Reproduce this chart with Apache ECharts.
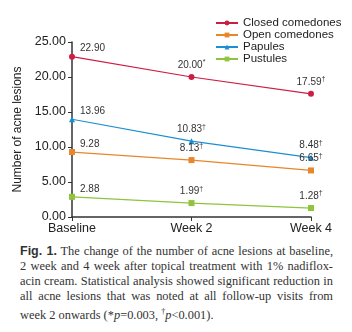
<!DOCTYPE html>
<html><head><meta charset="utf-8">
<script src="https://cdn.jsdelivr.net/npm/echarts@6/dist/echarts.min.js"></script>
<style>
html,body{margin:0;padding:0;background:#fff;}
#wrap{position:relative;width:352px;height:332px;overflow:hidden;}
#chart{position:absolute;left:0;top:0;width:352px;height:240px;}
#cap{position:absolute;left:20px;top:244px;width:313px;font-family:"Liberation Serif","DejaVu Serif",serif;font-size:12.4px;line-height:15px;color:#333;}
#cap div{text-align:justify;text-align-last:justify;white-space:nowrap;}
#cap div.last{text-align:left;text-align-last:left;}
#cap b{font-family:"Liberation Sans",Arial,sans-serif;font-weight:bold;font-size:12.5px;color:#333;}
</style></head>
<body><div id="wrap"><div id="chart"></div>
<div id="cap">
<div><b>Fig. 1.</b> The change of the number of acne lesions at baseline,</div>
<div>2 week and 4 week after topical treatment with 1% nadiflox-</div>
<div>acin cream. Statistical analysis showed significant reduction in</div>
<div>all acne lesions that was noted at all follow-up visits from</div>
<div class="last">week 2 onwards (*<i>p</i>=0.003, <sup style="font-size:8px">†</sup><i>p</i>&lt;0.001).</div>
</div></div>
<script>
const categories = ["Baseline", "Week 2", "Week 4"];
const seriesNames = ["Closed comedones", "Open comedones", "Papules", "Pustules"];
const closedVals = [22.90, 20.00, 17.59];
const openVals = [9.28, 8.13, 6.65];
const papuleVals = [13.96, 10.83, 8.48];
const pustuleVals = [2.88, 1.99, 1.28];
const closedMarks = ["", "*", "†"];
const openMarks = ["", "†", "†"];
const papuleMarks = ["", "†", "†"];
const pustuleMarks = ["", "†", "†"];
const yTicks = [0, 5, 10, 15, 20, 25];

const colors = ["#cc1e42", "#e8862c", "#1c8fd0", "#8fc43c"];
const symbols = ["circle", "rect", "triangle", "rect"];
const allVals = [closedVals, openVals, papuleVals, pustuleVals];
const allMarks = [closedMarks, openMarks, papuleMarks, pustuleMarks];

function mkData(vals, marks) {
  return vals.map((v, i) => {
    const item = { value: v, mark: marks[i] };
    if (i === 0) item.label = { position: 'right', offset: [0, -8], distance: 5 };
    return item;
  });
}

const chart = echarts.init(document.getElementById('chart'));
chart.setOption({
  animation: false,
  legend: {
    orient: 'vertical', left: 210, top: 12, itemGap: 0, itemWidth: 22, itemHeight: 6,
    textStyle: { fontFamily: 'Liberation Sans', fontSize: 11.5, color: '#222', lineHeight: 12 },
    data: seriesNames
  },
  grid: { left: 72, top: 42, width: 239, height: 175 },
  xAxis: {
    type: 'category', data: categories, boundaryGap: false,
    axisLine: { lineStyle: { color: '#333', width: 1.5 } },
    axisTick: { length: 4, lineStyle: { color: '#333' } },
    axisLabel: { fontFamily: 'Liberation Sans', fontSize: 12.5, color: '#222', margin: 5 }
  },
  yAxis: {
    type: 'value', min: 0, max: 25, interval: 5,
    name: 'Number of acne lesions', nameLocation: 'middle', nameGap: 38,
    nameTextStyle: { fontFamily: 'Liberation Sans', fontSize: 12, color: '#222' },
    splitLine: { show: false },
    axisLine: { show: true, lineStyle: { color: '#333', width: 1.5 } },
    axisTick: { show: true, length: 4, lineStyle: { color: '#333' } },
    axisLabel: { fontFamily: 'Liberation Sans', fontSize: 12.5, color: '#222', margin: 6,
      formatter: v => v.toFixed(2) }
  },
  series: seriesNames.map((n, k) => ({
    name: n, type: 'line', data: mkData(allVals[k], allMarks[k]),
    color: colors[k], symbol: symbols[k], symbolSize: 6,
    lineStyle: { width: 1.2, color: colors[k] },
    itemStyle: { color: colors[k] },
    label: {
      show: true, position: 'top', distance: 3,
      formatter: p => '{v|' + p.value.toFixed(2) + '}' + (p.data.mark ? '{s|' + p.data.mark + '}' : ''),
      rich: {
        v: { fontFamily: 'Liberation Sans', fontSize: 10, color: '#333' },
        s: { fontFamily: 'Liberation Sans', fontSize: 7, color: '#333', verticalAlign: 'top', padding: [0,0,5,0] }
      }
    }
  }))
});
</script></body></html>
